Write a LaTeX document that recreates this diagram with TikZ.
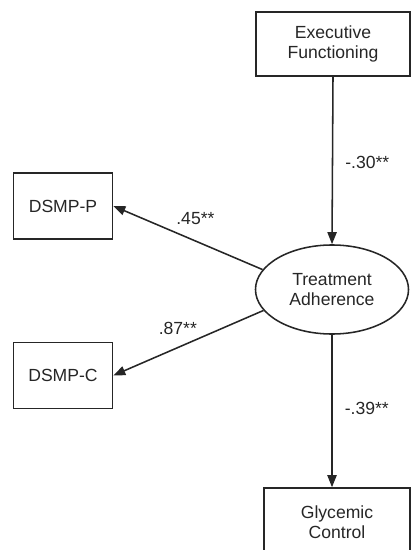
\documentclass[tikz,border=0pt]{standalone}
\usepackage{fontspec}
\setmainfont{Liberation Sans}
\usetikzlibrary{
  shapes.geometric,
  arrows.meta,
  positioning
}
\definecolor{linegray}{HTML}{262626}

\begin{document}
\begin{tikzpicture}[
    x=0.025cm, y=-0.025cm,
    every node/.style={font=\fontsize{12.5}{14.5}\selectfont, text=linegray},
    varbox/.style={rectangle, draw=linegray, line width=1.1pt, align=center,
                 inner sep=0pt},
    latent/.style={ellipse, draw=linegray, line width=1.1pt, align=center,
                 minimum width=3.825cm, minimum height=2.225cm, inner sep=0pt},
    pathlabel/.style={inner sep=0pt},
    patharrow/.style={-{Triangle[length=3mm, width=2.3mm]}, line width=1.1pt, linegray},
]

\useasboundingbox (0,0) rectangle (411,550);
\clip (0,0) rectangle (411,550);

\node[varbox, minimum width=3.85cm, minimum height=1.6cm] (exec) at (333,44) {Executive\\Functioning};
\node[latent] (adh) at (332,289.5) {Treatment\\Adherence};
\node[varbox, minimum width=2.475cm, minimum height=1.65cm] (dsmpp) at (63,206) {DSMP-P};
\node[varbox, minimum width=2.475cm, minimum height=1.65cm] (dsmpc) at (63,375.5) {DSMP-C};
\node[varbox, minimum width=3.65cm, minimum height=1.7cm] (glyc) at (337,522) {Glycemic\\Control};

\draw[patharrow] (exec.south) -- (adh.north)
    node[pathlabel, pos=0.51, anchor=west, xshift=0.3cm] {-.30**};
\draw[patharrow] (adh.164) -- (dsmpp.east)
    node[pathlabel, pos=0.45, above=0.38cm] {.45**};
\draw[patharrow] (adh.197) -- (dsmpc.east)
    node[pathlabel, pos=0.57, above=0.3cm] {.87**};
\draw[patharrow] (adh.south) -- (adh.south |- glyc.north)
    node[pathlabel, pos=0.48, anchor=west, xshift=0.3cm] {-.39**};

\end{tikzpicture}
\end{document}
